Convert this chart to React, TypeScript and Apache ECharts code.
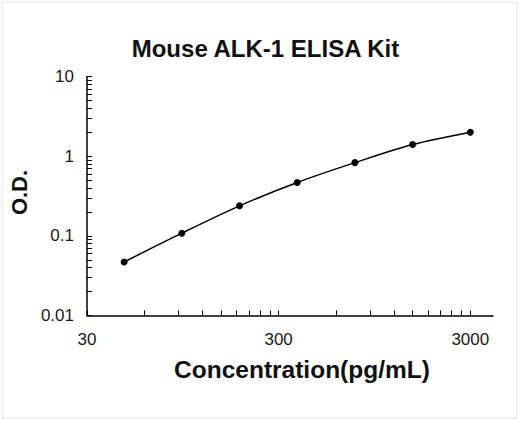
import React, { useEffect, useRef } from "react";
import * as echarts from "echarts";

const concentrations = [46.875, 93.75, 187.5, 375, 750, 1500, 3000];
const odValues = [0.047, 0.108, 0.238, 0.468, 0.83, 1.4, 2.0];
const xLabelValues = [30, 300, 3000];
const xTickValues = [30, 60, 90, 120, 150, 180, 210, 240, 270, 300, 600, 900, 1200, 1500, 1800, 2100, 2400, 2700, 3000];
const yLabelValues = [0.01, 0.1, 1, 10];
const yTickValues = [
  0.01, 0.02, 0.03, 0.04, 0.05, 0.06, 0.07, 0.08, 0.09,
  0.1, 0.2, 0.3, 0.4, 0.5, 0.6, 0.7, 0.8, 0.9,
  1, 2, 3, 4, 5, 6, 7, 8, 9, 10,
];
const titleText = "Mouse ALK-1 ELISA Kit";
const xName = "Concentration(pg/mL)";
const yName = "O.D.";

export default function App() {
  const ref = useRef<HTMLDivElement>(null);
  useEffect(() => {
    if (!ref.current) return;
    const chart = echarts.init(ref.current, undefined, { renderer: "svg" });
    const font = "'Liberation Sans', Arial, sans-serif";
    chart.setOption({
      animation: false,
      backgroundColor: "#ffffff",
      title: {
        text: titleText,
        left: 260.5,
        top: 31,
        textAlign: "center",
        textStyle: { fontFamily: font, fontSize: 24, fontWeight: "bold", color: "#111" },
      },
      graphic: [
        {
          type: "rect",
          shape: { x: 2, y: 2, width: 515, height: 416 },
          style: { fill: "none", stroke: "#e2e2e2", lineWidth: 1 },
          silent: true,
        },
      ],
      grid: { left: 81.5, right: 27, top: 76.5, bottom: 105.5, containLabel: false },
      xAxis: {
        type: "log",
        logBase: 10,
        min: 30,
        max: 3940,
        name: xName,
        nameLocation: "middle",
        nameGap: 41,
        nameTextStyle: {
          fontFamily: font,
          fontSize: 24.5,
          fontWeight: "bold",
          color: "#111",
          padding: [0, 0, 0, 24],
        },
        axisLine: { show: true, onZero: false, lineStyle: { color: "#000", width: 1.5 } },
        axisTick: {
          show: true,
          inside: true,
          length: 5,
          customValues: xTickValues,
          lineStyle: { color: "#000", width: 1 },
        },
        minorTick: { show: false },
        axisLabel: {
          customValues: xLabelValues,
          margin: 15,
          fontFamily: font,
          fontSize: 17,
          color: "#1a1a1a",
          formatter: (v: number) => String(v),
        },
        splitLine: { show: false },
      },
      yAxis: {
        type: "log",
        logBase: 10,
        min: 0.01,
        max: 10,
        name: yName,
        nameLocation: "middle",
        nameGap: 51,
        nameRotate: 90,
        nameTextStyle: {
          fontFamily: font,
          fontSize: 22,
          fontWeight: "bold",
          color: "#111",
          padding: [0, 0, 0, 7],
        },
        axisLine: { show: true, onZero: false, lineStyle: { color: "#000", width: 1.5 } },
        axisTick: {
          show: true,
          inside: true,
          length: 5,
          customValues: yTickValues,
          lineStyle: { color: "#000", width: 1 },
        },
        axisLabel: {
          customValues: yLabelValues,
          margin: 13,
          fontFamily: font,
          fontSize: 17,
          color: "#1a1a1a",
          formatter: (v: number) => String(v),
        },
        splitLine: { show: false },
      },
      series: [
        {
          type: "line",
          data: concentrations.map((c, i) => [c, odValues[i]]),
          smooth: 0.3,
          symbol: "circle",
          symbolSize: 7,
          itemStyle: { color: "#000" },
          lineStyle: { color: "#000", width: 1.5 },
        },
      ],
    });
    return () => chart.dispose();
  }, []);
  return (
    <div
      ref={ref}
      style={{ position: "absolute", left: 0, top: 0, width: 520, height: 421 }}
    />
  );
}
